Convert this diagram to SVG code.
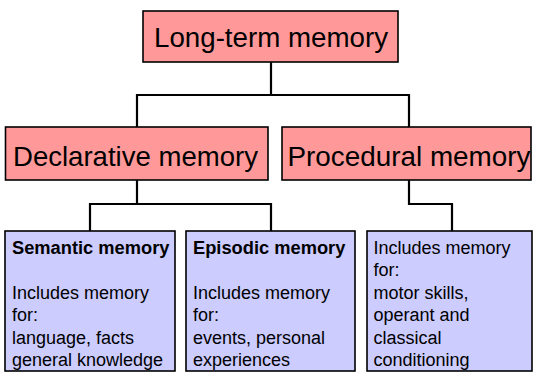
<svg xmlns="http://www.w3.org/2000/svg" width="533" height="372" viewBox="0 0 533 372">
<style>
.pink{fill:#FF9999;stroke:#000;stroke-width:1.6}
.blue{fill:#CCCCFF;stroke:#000;stroke-width:1.6}
.big{font-family:"Liberation Sans",Arial,sans-serif;font-size:27.5px;fill:#000}
.small{font-family:"Liberation Sans",Arial,sans-serif;font-size:18px;fill:#000}
.bold{font-weight:bold;font-size:18.3px}
.conn{fill:none;stroke:#000;stroke-width:2.2}
</style>
<rect width="533" height="372" fill="#fff"/>
<g id="connectors">
<path class="conn" d="M271 62V95M137 127V95H409V127"/>
<path class="conn" d="M137 180V204M90 231V204H271V231"/>
<path class="conn" d="M409 180V204H452V231"/>
</g>
<g id="long-term">
<rect class="pink" x="143" y="11" width="255" height="51"/>
<text class="big" x="271" y="47" text-anchor="middle" textLength="234" lengthAdjust="spacingAndGlyphs">Long-term memory</text>
</g>
<g id="declarative">
<rect class="pink" x="5.5" y="127" width="262.5" height="53"/>
<text class="big" x="135.5" y="166" text-anchor="middle" textLength="245" lengthAdjust="spacingAndGlyphs">Declarative memory</text>
</g>
<g id="procedural">
<rect class="pink" x="282" y="127" width="249" height="53"/>
<text class="big" x="409" y="166" text-anchor="middle" textLength="243" lengthAdjust="spacingAndGlyphs">Procedural memory</text>
</g>
<g id="semantic">
<rect class="blue" x="5" y="231" width="170" height="140"/>
<text class="small bold" x="12" y="253.5">Semantic memory</text>
<text class="small" x="12" y="298.5">Includes memory</text>
<text class="small" x="12" y="321">for:</text>
<text class="small" x="12" y="343.5">language, facts</text>
<text class="small" x="12" y="366">general knowledge</text>
</g>
<g id="episodic">
<rect class="blue" x="186" y="231" width="169" height="140"/>
<text class="small bold" x="193" y="253.5">Episodic memory</text>
<text class="small" x="193" y="298.5">Includes memory</text>
<text class="small" x="193" y="321">for:</text>
<text class="small" x="193" y="343.5">events, personal</text>
<text class="small" x="193" y="366">experiences</text>
</g>
<g id="procedural-details">
<rect class="blue" x="367" y="231" width="165" height="140"/>
<text class="small" x="373.5" y="253.5">Includes memory</text>
<text class="small" x="373.5" y="276">for:</text>
<text class="small" x="373.5" y="298.5">motor skills,</text>
<text class="small" x="373.5" y="321">operant and</text>
<text class="small" x="373.5" y="343.5">classical</text>
<text class="small" x="373.5" y="366">conditioning</text>
</g>
</svg>
